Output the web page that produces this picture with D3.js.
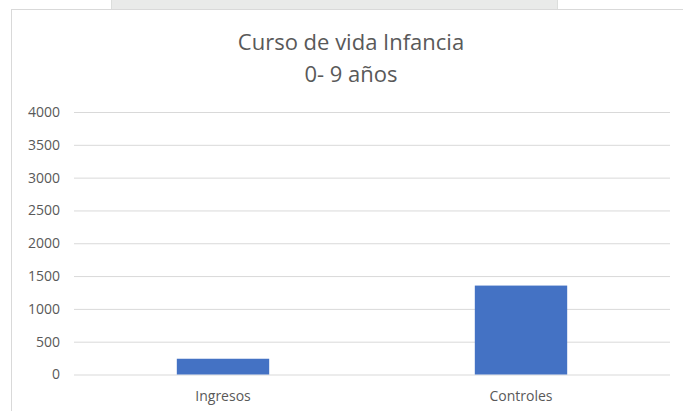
<!DOCTYPE html>
<html>
<head>
	<meta charset="utf-8">
	<title>Curso de vida Infancia</title>
	<script src="https://d3js.org/d3.v7.min.js"></script>
	<style type="text/css">
	html, body{
		margin:0;
		background:#fff;
	}
	text{
		font-family: "Open Sans", sans-serif;
		fill: #595959;
	}
	</style>
</head>
<body>
<div id="chart"></div>
<script type="text/javascript">
	// data
	var categories = ["Ingresos", "Controles"];
	var values = [240, 1355];
	var yTicks = [0, 500, 1000, 1500, 2000, 2500, 3000, 3500, 4000];
	var titleLines = ["Curso de vida Infancia", "0- 9 años"];

	var width = 683, height = 411;

	var svg = d3.select("#chart").append("svg")
		.attr("width", width)
		.attr("height", height);

	// grey box peeking in at the top
	svg.append("rect")
		.attr("x", 111.5).attr("y", -1)
		.attr("width", 446).attr("height", 11)
		.attr("fill", "#e9eae9")
		.attr("stroke", "#dcdedc");

	// chart frame (no right / bottom edge in view)
	svg.append("rect")
		.attr("x", 11.5).attr("y", 9.5)
		.attr("width", 700).attr("height", 420)
		.attr("fill", "#fff")
		.attr("stroke", "#d9d9d9");

	var plot = {left: 74, right: 670, top: 112, bottom: 374.5};

	var y = d3.scaleLinear()
		.domain([0, 4000])
		.range([plot.bottom, plot.top]);

	var x = d3.scaleBand()
		.domain(categories)
		.range([plot.left, plot.right])
		.paddingInner(0.69)
		.paddingOuter(0.345);

	var yAxis = d3.axisLeft(y)
		.tickValues(yTicks)
		.tickFormat(d3.format("d"))
		.tickSize(-(plot.right - plot.left))
		.tickPadding(14);

	var gy = svg.append("g")
		.attr("transform", "translate(" + plot.left + ",0)")
		.call(yAxis);
	gy.select(".domain").remove();
	gy.selectAll(".tick line").attr("stroke", "#d9d9d9");
	gy.selectAll(".tick text")
		.attr("font-size", 14)
		.attr("fill", "#595959")
		.style("font-family", "'Open Sans', sans-serif");

	svg.selectAll("rect.bar")
		.data(values)
		.enter().append("rect")
		.attr("class", "bar")
		.attr("x", function(d, i){ return x(categories[i]); })
		.attr("width", x.bandwidth())
		.attr("y", function(d){ return y(d); })
		.attr("height", function(d){ return y(0) - y(d); })
		.attr("fill", "#4472c4");

	var xAxis = d3.axisBottom(x).tickSize(0).tickPadding(17);
	var gx = svg.append("g")
		.attr("transform", "translate(0," + plot.bottom + ")")
		.call(xAxis);
	gx.select(".domain").remove();
	gx.selectAll(".tick text")
		.attr("font-size", 14)
		.attr("fill", "#595959")
		.style("font-family", "'Open Sans', sans-serif");

	svg.selectAll("text.title")
		.data(titleLines)
		.enter().append("text")
		.attr("class", "title")
		.attr("x", 351)
		.attr("y", function(d, i){ return 50 + i * 32; })
		.attr("text-anchor", "middle")
		.attr("font-size", 22)
		.text(function(d){ return d; });
</script>
</body>
</html>
